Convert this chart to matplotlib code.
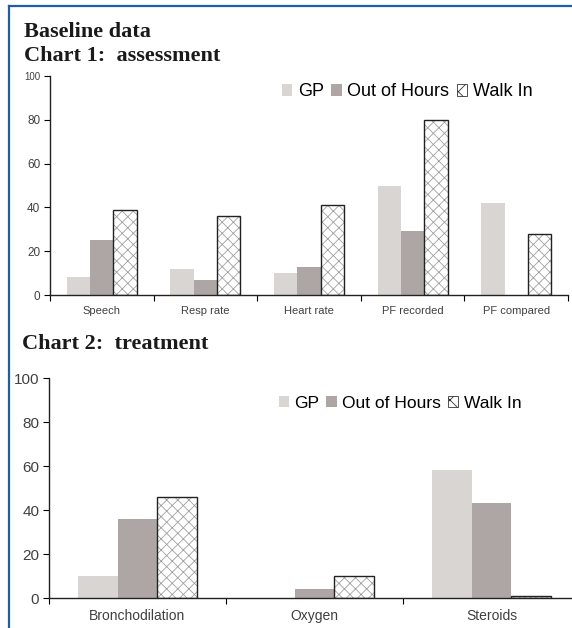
import numpy as np
import matplotlib
matplotlib.use("Agg")
import matplotlib.pyplot as plt
from matplotlib.patches import Patch
from matplotlib.lines import Line2D

plt.rcParams['font.family'] = ['Liberation Sans', 'DejaVu Sans']
plt.rcParams['hatch.linewidth'] = 0.6
plt.rcParams['hatch.color'] = '#a0a0a0'

# data
series = ['GP', 'Out of Hours', 'Walk In']

cats1 = ['Speech', 'Resp rate', 'Heart rate', 'PF recorded', 'PF compared']
gp1 = [8, 12, 10, 50, 42]
ooh1 = [25, 7, 13, 29, 0]
walk1 = [39, 36, 41, 80, 28]

cats2 = ['Bronchodilation', 'Oxygen', 'Steroids']
gp2 = [10, 0, 58]
ooh2 = [36, 4, 43]
walk2 = [46, 10, 1]

yticks = [0, 20, 40, 60, 80, 100]

GP_COL = '#d9d5d2'
OOH_COL = '#aea6a4'
TXT = '#404040'

W, H = 572, 628
fig = plt.figure(figsize=(W / 100, H / 100), dpi=100)


def px(x0, y0, x1, y1):
    # pixel box (top-left origin) -> figure fraction rect
    return [x0 / W, 1 - y1 / H, (x1 - x0) / W, (y1 - y0) / H]


def bar_chart(ax, cats, gp, ooh, walk, tick_fs, cat_fs):
    n = len(cats)
    x = np.arange(n)
    w = 0.225
    ax.bar(x - w, gp, w, color=GP_COL, linewidth=0)
    ax.bar(x, ooh, w, color=OOH_COL, linewidth=0)
    # hatched fill, then black outline
    ax.bar(x + w, walk, w, color='white', hatch='xxx', edgecolor='#a0a0a0', linewidth=0)
    ax.bar(x + w, walk, w, fill=False, edgecolor='#222222', linewidth=1.0)

    ax.set_xlim(-0.5, n - 0.5)
    ax.set_ylim(0, 100)
    ax.set_yticks(yticks)
    ax.tick_params(axis='y', labelsize=tick_fs, labelcolor=TXT, length=4, width=0.8, pad=3)
    ax.set_xticks(np.arange(n + 1) - 0.5)
    ax.set_xticklabels([])
    ax.set_xticks(x, minor=True)
    ax.set_xticklabels(cats, minor=True, fontsize=cat_fs, color=TXT)
    ax.tick_params(axis='x', which='major', length=4, width=0.8, direction='out')
    ax.tick_params(axis='x', which='minor', length=0, pad=8)
    for s in ['top', 'right']:
        ax.spines[s].set_visible(False)
    for s in ['left', 'bottom']:
        ax.spines[s].set_color('#222222')
        ax.spines[s].set_linewidth(1.0)


def legend(ax, fs, center):
    handles = [Patch(facecolor=GP_COL, edgecolor='none'),
               Patch(facecolor=OOH_COL, edgecolor='none'),
               Patch(facecolor='white', hatch='xx', edgecolor='#333333', linewidth=0.6)]
    fig.legend(handles, series, loc='center', bbox_to_anchor=(center[0] / W, 1 - center[1] / H),
               ncol=3, frameon=False, fontsize=fs, handlelength=0.6, handleheight=0.6,
               handletextpad=0.3, columnspacing=0.4, borderpad=0)


ax1 = fig.add_axes(px(50, 76, 568, 295))
bar_chart(ax1, cats1, gp1, ooh1, walk1, 8.5, 8)
ax1.get_yticklabels()[-1].set_fontsize(7)
legend(ax1, 13, (407, 92))

ax2 = fig.add_axes(px(49, 378, 580, 598))
bar_chart(ax2, cats2, gp2, ooh2, walk2, 11, 10)
legend(ax2, 12.5, (400, 403))

# headings
fig.text(24 / W, 1 - 37 / H, 'Baseline data', family='Liberation Serif', weight='bold',
         fontsize=16, color='#1a1a1a', va='baseline')
fig.text(24 / W, 1 - 61 / H, 'Chart 1:  assessment', family='Liberation Serif', weight='bold',
         fontsize=16, color='#1a1a1a', va='baseline')
fig.text(22 / W, 1 - 349 / H, 'Chart 2:  treatment', family='Liberation Serif', weight='bold',
         fontsize=16, color='#1a1a1a', va='baseline')

# blue frame on top and left
fig.add_artist(Line2D([9 / W, 1], [1 - 6 / H, 1 - 6 / H], color='#1d5ea8', linewidth=1.6))
fig.add_artist(Line2D([9 / W, 9 / W], [0, 1 - 6 / H], color='#1d5ea8', linewidth=1.6))

fig.savefig('out.png', dpi=100)
